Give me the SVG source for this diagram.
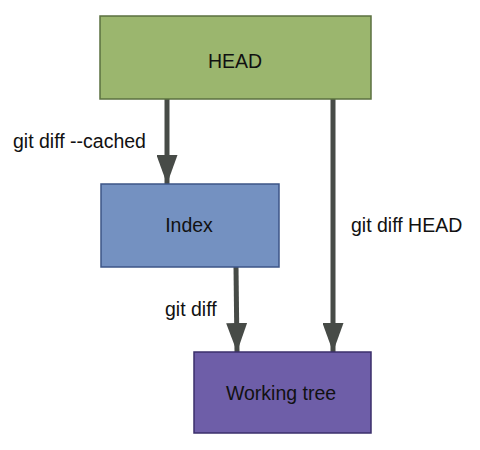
<svg xmlns="http://www.w3.org/2000/svg" width="480" height="450" viewBox="0 0 480 450">
<defs>
<style>
.lbl{font-family:"Liberation Sans",Arial,sans-serif;font-size:19.5px;fill:#111;}
.ctr{text-anchor:middle;}
.conn{stroke:#474b47;stroke-width:5;fill:none;}
</style>
<marker id="ah" markerUnits="userSpaceOnUse" markerWidth="29" markerHeight="21" refX="29" refY="10.5" orient="auto" viewBox="0 0 29 21">
<path d="M0,0 L29,10.5 L0,21 Z" fill="#474b47"/>
</marker>
</defs>
<rect width="480" height="450" fill="#fff"/>
<g id="connectors">
<line class="conn" x1="167" y1="99" x2="167" y2="184" marker-end="url(#ah)"/>
<line class="conn" x1="333" y1="99" x2="333" y2="352" marker-end="url(#ah)"/>
<line class="conn" x1="236" y1="267" x2="237" y2="352" marker-end="url(#ah)"/>
<text class="lbl" x="13" y="148">git diff --cached</text>
<text class="lbl" x="351" y="232">git diff HEAD</text>
<text class="lbl" x="165" y="316">git diff</text>
</g>
<g id="head">
<rect x="100" y="16" width="271" height="83" fill="#9bb66e" stroke="#5b7040" stroke-width="1.5"/>
<text class="lbl ctr" x="235" y="68">HEAD</text>
</g>
<g id="index">
<rect x="101" y="184" width="178" height="83" fill="#7491c1" stroke="#3c5587" stroke-width="1.5"/>
<text class="lbl ctr" x="189" y="232">Index</text>
</g>
<g id="working-tree">
<rect x="194" y="352" width="177" height="81" fill="#6e5ea8" stroke="#3b2f6b" stroke-width="1.5"/>
<text class="lbl ctr" x="281" y="400">Working tree</text>
</g>
</svg>
